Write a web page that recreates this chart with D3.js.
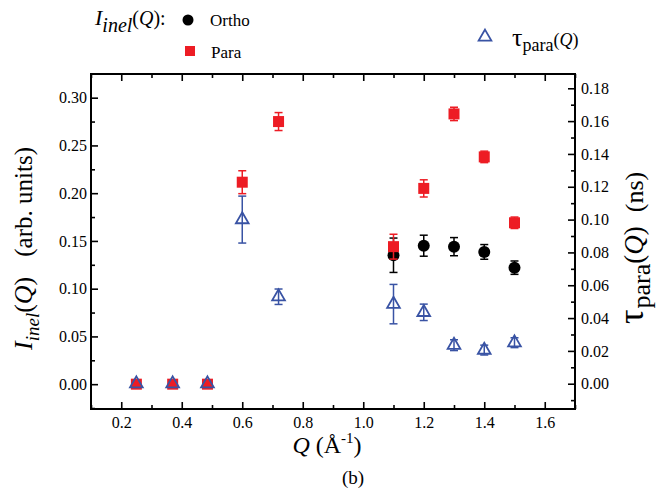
<!DOCTYPE html>
<html>
<head>
<meta charset="utf-8">
<script src="https://cdn.jsdelivr.net/npm/d3@7"></script>
<style>
  body { margin: 0; background: #fff; }
  svg text { font-family: "Times New Roman", Times, "Liberation Serif", "DejaVu Serif", serif !important; fill: #000; }
</style>
</head>
<body>
<div id="vis"></div>
<script>
// frame constants
const FRAME_WIDTH = 658;
const FRAME_HEIGHT = 493;
const PLOT = {left: 91, right: 575, top: 74, bottom: 409};

const RED = "#ed1c24";
const BLUE = "#3953a4";

// data
const orthoQ = [1.1, 1.2, 1.3, 1.4, 1.5];
const orthoI = [0.135, 0.145, 0.144, 0.1385, 0.122];
const orthoErr = [0.018, 0.011, 0.0095, 0.0077, 0.007];

const paraQ = [0.25, 0.37, 0.485, 0.60, 0.72, 1.1, 1.2, 1.3, 1.4, 1.5];
const paraI = [0, 0, 0, 0.2115, 0.275, 0.144, 0.205, 0.283, 0.238, 0.169];
const paraErr = [0, 0, 0, 0.012, 0.0094, 0.013, 0.009, 0.007, 0.006, 0.006];

const tauQ = [0.25, 0.37, 0.485, 0.60, 0.72, 1.1, 1.2, 1.3, 1.4, 1.5];
const tauV = [0, 0, 0, 0.100, 0.053, 0.0485, 0.0435, 0.0235, 0.0205, 0.025];
const tauErr = [0, 0, 0, 0.0143, 0.0047, 0.012, 0.005, 0.0033, 0.003, 0.003];

const xTicks = [0.2, 0.4, 0.6, 0.8, 1.0, 1.2, 1.4, 1.6];
const xMinor = [0.1, 0.3, 0.5, 0.7, 0.9, 1.1, 1.3, 1.5, 1.7];
const yLeftTicks = [0, 0.05, 0.10, 0.15, 0.20, 0.25, 0.30];
const yLeftMinor = [-0.025, 0.025, 0.075, 0.125, 0.175, 0.225, 0.275];
const yRightTicks = [0, 0.02, 0.04, 0.06, 0.08, 0.10, 0.12, 0.14, 0.16, 0.18];
const yRightMinor = [-0.01, 0.01, 0.03, 0.05, 0.07, 0.09, 0.11, 0.13, 0.15, 0.17];

const svg = d3.select("#vis").append("svg")
    .attr("width", FRAME_WIDTH)
    .attr("height", FRAME_HEIGHT);

// scales
const X_SCALE = d3.scaleLinear().domain([0.1, 1.7]).range([PLOT.left, PLOT.right]);
const Y_LEFT = d3.scaleLinear().domain([-0.026, 0.3248]).range([PLOT.bottom, PLOT.top]);
const Y_RIGHT = d3.scaleLinear().domain([-0.0154, 0.1887]).range([PLOT.bottom, PLOT.top]);

// axes helper: inward ticks, no domain line
function styleAxis(g) {
  g.attr("font-family", null);
  g.select(".domain").remove();
  g.selectAll(".tick line").attr("stroke", "#000").attr("stroke-width", 1.6);
  g.selectAll(".tick text").attr("font-size", "16px");
}

// minor ticks
svg.append("g").attr("transform", "translate(0," + PLOT.bottom + ")")
   .call(d3.axisBottom(X_SCALE).tickValues(xMinor).tickSize(-4).tickFormat(""))
   .call(styleAxis);
svg.append("g").attr("transform", "translate(0," + PLOT.top + ")")
   .call(d3.axisTop(X_SCALE).tickValues(xMinor).tickSize(-4).tickFormat(""))
   .call(styleAxis);
svg.append("g").attr("transform", "translate(" + PLOT.left + ",0)")
   .call(d3.axisLeft(Y_LEFT).tickValues(yLeftMinor).tickSize(-4).tickFormat(""))
   .call(styleAxis);
svg.append("g").attr("transform", "translate(" + PLOT.right + ",0)")
   .call(d3.axisRight(Y_RIGHT).tickValues(yRightMinor).tickSize(-4).tickFormat(""))
   .call(styleAxis);

// major ticks
svg.append("g").attr("transform", "translate(0," + PLOT.bottom + ")")
   .call(d3.axisBottom(X_SCALE).tickValues(xTicks).tickSize(-7).tickPadding(8).tickFormat(d3.format(".1f")))
   .call(styleAxis);
svg.append("g").attr("transform", "translate(0," + PLOT.top + ")")
   .call(d3.axisTop(X_SCALE).tickValues(xTicks).tickSize(-7).tickFormat(""))
   .call(styleAxis);
svg.append("g").attr("transform", "translate(" + PLOT.left + ",0)")
   .call(d3.axisLeft(Y_LEFT).tickValues(yLeftTicks).tickSize(-7).tickPadding(4).tickFormat(d3.format(".2f")))
   .call(styleAxis);
svg.append("g").attr("transform", "translate(" + PLOT.right + ",0)")
   .call(d3.axisRight(Y_RIGHT).tickValues(yRightTicks).tickSize(-7).tickPadding(6).tickFormat(d3.format(".2f")))
   .call(styleAxis);

// frame
svg.append("rect")
   .attr("x", PLOT.left).attr("y", PLOT.top)
   .attr("width", PLOT.right - PLOT.left).attr("height", PLOT.bottom - PLOT.top)
   .attr("fill", "none").attr("stroke", "#000").attr("stroke-width", 2);

// error bars
function errorBars(xs, ys, errs, yScale, color) {
  const g = svg.append("g").attr("stroke", color).attr("stroke-width", 1.5);
  xs.forEach((q, i) => {
    if (errs[i] <= 0) return;
    const cx = X_SCALE(q);
    const y0 = yScale(ys[i] - errs[i]);
    const y1 = yScale(ys[i] + errs[i]);
    g.append("line").attr("x1", cx).attr("x2", cx).attr("y1", y0).attr("y2", y1);
    g.append("line").attr("x1", cx - 4).attr("x2", cx + 4).attr("y1", y0).attr("y2", y0);
    g.append("line").attr("x1", cx - 4).attr("x2", cx + 4).attr("y1", y1).attr("y2", y1);
  });
}

// Ortho (black circles)
errorBars(orthoQ, orthoI, orthoErr, Y_LEFT, "#000");
svg.append("g").selectAll("circle")
   .data(orthoQ).enter().append("circle")
   .attr("cx", (d) => X_SCALE(d))
   .attr("cy", (d, i) => Y_LEFT(orthoI[i]))
   .attr("r", 6)
   .attr("fill", "#000");

// Para (red squares)
errorBars(paraQ, paraI, paraErr, Y_LEFT, RED);
svg.append("g").selectAll("rect")
   .data(paraQ).enter().append("rect")
   .attr("x", (d) => X_SCALE(d) - 5.5)
   .attr("y", (d, i) => Y_LEFT(paraI[i]) - 5.5)
   .attr("width", 11).attr("height", 11)
   .attr("fill", RED);

// tau (open blue triangles, right axis)
errorBars(tauQ, tauV, tauErr, Y_RIGHT, BLUE);
const tri = d3.symbol().type(d3.symbolTriangle).size(70);
svg.append("g").selectAll("path")
   .data(tauQ).enter().append("path")
   .attr("d", tri)
   .attr("transform", (d, i) => "translate(" + X_SCALE(d) + "," + Y_RIGHT(tauV[i]) + ")")
   .attr("fill", "none")
   .attr("stroke", BLUE)
   .attr("stroke-width", 1.8);

// left axis title (reads bottom to top)
const lt = svg.append("text")
   .attr("transform", "translate(32,350) rotate(-90)")
   .attr("text-anchor", "start")
   .attr("font-size", "26px");
lt.append("tspan").attr("font-style", "italic").text("I");
lt.append("tspan").attr("font-style", "italic").attr("font-size", "19px").attr("dy", 7).text("inel");
lt.append("tspan").attr("dy", -7).text("(");
lt.append("tspan").attr("font-style", "italic").text("Q");
lt.append("tspan").text(")");
lt.append("tspan").attr("dx", 20).attr("font-size", "25px").text("(arb. units)");

// right axis title
const rt = svg.append("text")
   .attr("transform", "translate(643,324) rotate(-90)")
   .attr("text-anchor", "start")
   .attr("font-size", "27px");
rt.append("tspan").attr("font-size", "36px").text("\u03c4");
rt.append("tspan").attr("font-size", "26px").attr("dx", 1).attr("dy", 7).text("para");
rt.append("tspan").attr("dy", -7).text("(");
rt.append("tspan").attr("font-style", "italic").text("Q");
rt.append("tspan").text(")");
rt.append("tspan").attr("dx", 14).attr("font-size", "26px").text("(ns)");

// x axis title
const xt = svg.append("text")
   .attr("x", 327).attr("y", 453)
   .attr("text-anchor", "middle")
   .attr("font-size", "24px");
xt.append("tspan").attr("font-style", "italic").text("Q");
xt.append("tspan").text(" (\u00c5");
xt.append("tspan").attr("font-size", "15px").attr("dy", -10).text("-1");
xt.append("tspan").attr("dy", 10).text(")");

svg.append("text")
   .attr("x", 353).attr("y", 484)
   .attr("text-anchor", "middle")
   .attr("font-size", "19px")
   .text("(b)");

// legend, top left
const lg = svg.append("text").attr("x", 95).attr("y", 25).attr("font-size", "22px");
lg.append("tspan").attr("font-style", "italic").text("I");
lg.append("tspan").attr("font-style", "italic").attr("font-size", "20px").attr("dy", 7).text("inel");
lg.append("tspan").attr("font-size", "20px").attr("dy", -7).text("(");
lg.append("tspan").attr("font-size", "20px").attr("font-style", "italic").text("Q");
lg.append("tspan").attr("font-size", "20px").text("):");

svg.append("circle").attr("cx", 188).attr("cy", 20).attr("r", 5.5).attr("fill", "#000");
svg.append("text").attr("x", 210).attr("y", 26).attr("font-size", "17px").text("Ortho");
svg.append("rect").attr("x", 185).attr("y", 46).attr("width", 10).attr("height", 10).attr("fill", RED);
svg.append("text").attr("x", 211).attr("y", 58).attr("font-size", "17px").text("Para");

// legend, top right
svg.append("path").attr("d", tri)
   .attr("transform", "translate(485,37)")
   .attr("fill", "none").attr("stroke", BLUE).attr("stroke-width", 1.8);
const rg = svg.append("text").attr("x", 512).attr("y", 46).attr("font-size", "26px");
rg.append("tspan").text("\u03c4");
rg.append("tspan").attr("font-size", "18px").attr("dy", 5).text("para");
rg.append("tspan").attr("font-size", "18px").attr("dy", -5).text("(");
rg.append("tspan").attr("font-size", "18px").attr("font-style", "italic").text("Q");
rg.append("tspan").attr("font-size", "18px").text(")");
</script>
</body>
</html>
